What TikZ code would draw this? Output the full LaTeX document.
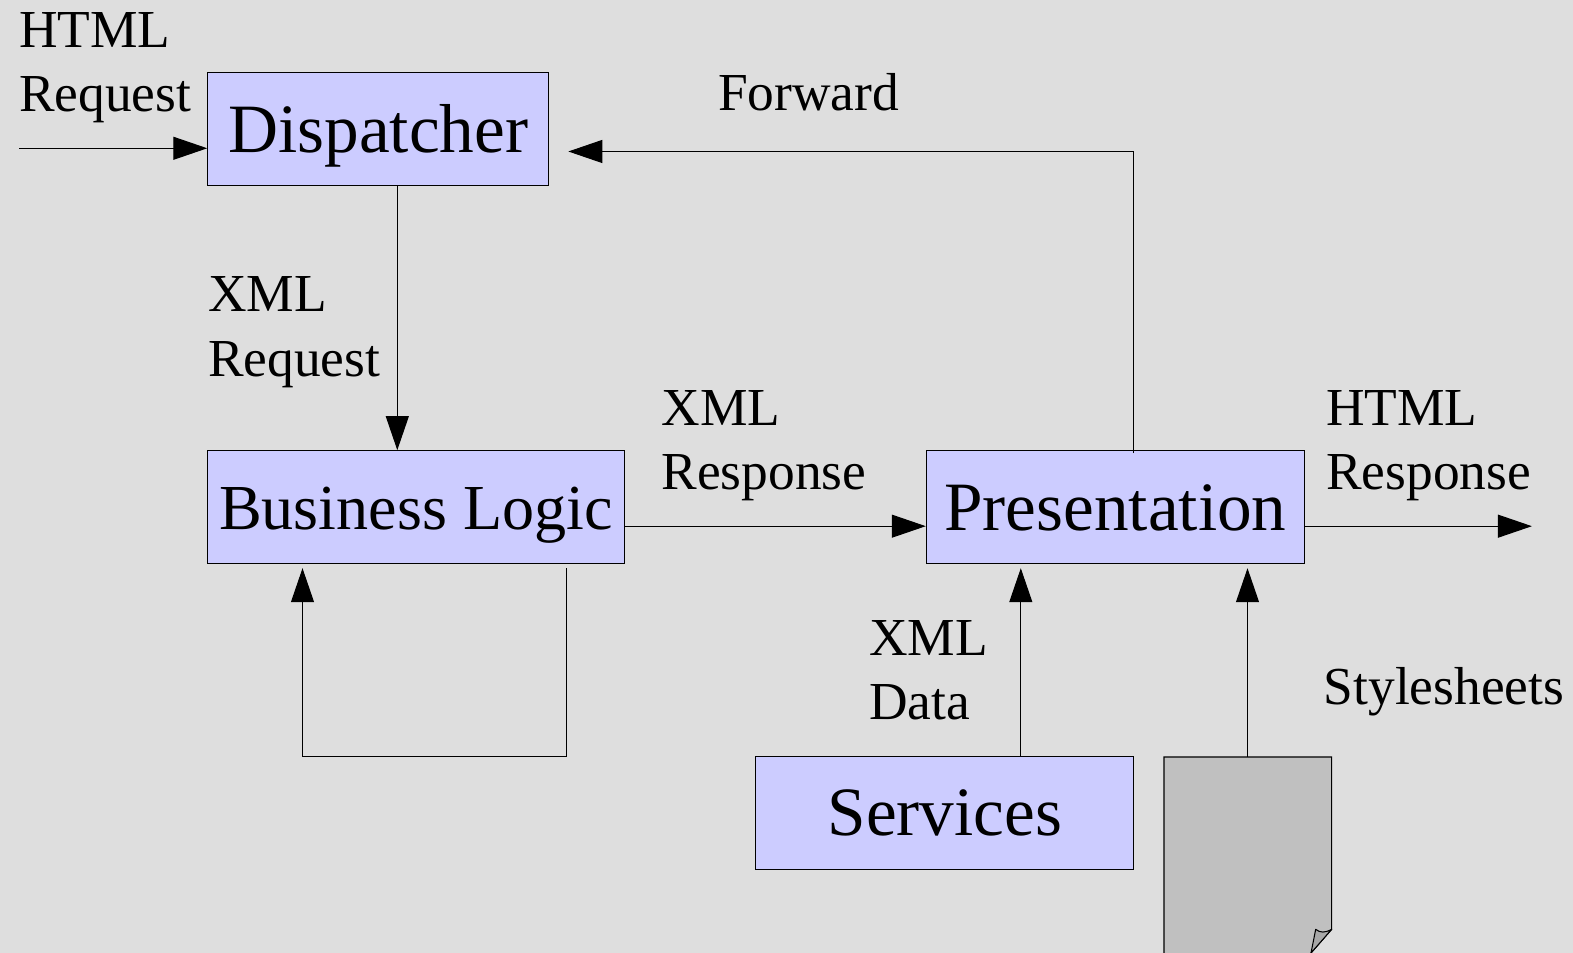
\documentclass[tikz,border=0pt]{standalone}
\usepackage{fontspec}
\setmainfont{Liberation Serif}
\usetikzlibrary{arrows.meta}
\definecolor{sfondo}{HTML}{DEDEDE}
\definecolor{scatola}{HTML}{CCCCFF}
\definecolor{foglio}{HTML}{C0C0C0}
\definecolor{piega}{HTML}{A8A8A8}
\tikzset{
	>={Triangle[length=3.4mm,width=2.3mm]},
	boxnode/.style={draw, fill=scatola, inner sep=0pt, text height=13.45pt, text depth=0pt, minimum height=1.13cm, font=\fontsize{19.7}{23}\selectfont},
	labelnode/.style={anchor=base west, inner sep=0pt, align=left, font=\fontsize{15.2}{18.3}\selectfont},
}

\begin{document}
\begin{tikzpicture}[line width=0.3pt]
		    \useasboundingbox (0,0) rectangle (15.73,9.53);
		    \clip (0,0) rectangle (15.73,9.53);
		    \fill[sfondo] (0,0) rectangle (15.73,9.53);

					\node[boxnode, minimum width=3.41cm] (dispatcher) at (3.783,8.24) {Dispatcher};
					\node[boxnode, minimum width=4.163cm, text height=12.5pt, font=\fontsize{18.25}{22}\selectfont] (business) at (4.16,4.458) {Business Logic};
					\node[boxnode, minimum width=3.782cm, text height=13pt] (presentation) at (11.154,4.458) {Presentation};
					\node[boxnode, minimum width=3.782cm, text height=12.7pt] (services) at (9.448,1.399) {Services};

					\draw[fill=foglio] (11.64,-0.2) -- (11.64,1.96) -- (13.317,1.96) -- (13.317,0.237) -- (13.11,0) -- (13.02,-0.2) -- cycle; % foglio
					\draw[fill=piega, line join=round] (13.317,0.237) .. controls (13.25,0.2) and (13.2,0.2) .. (13.157,0.237) -- (13.11,0) -- cycle; % piega

					\coordinate (requeststart) at (0.19,8.047);
					\coordinate (sheettop) at (12.475,1.96);
					\coordinate (responseend) at (15.319,4.268);
					\coordinate (forwardturn) at (11.336,8.015);
					\coordinate (downline) at (3.973,8.015);
					\coordinate (looptop) at (5.668,1.966);
					\coordinate (loopend) at (3.025,1.966);
					\coordinate (datatop) at (10.208,1.966);

					\draw[->] (requeststart) -- (dispatcher.west |- requeststart); % da html a dispatcher
					\draw[->] (dispatcher.south -| downline) -- (business.north -| downline); % da dispatcher a business
					\draw[->] (business.east |- responseend) -- (presentation.west |- responseend); % da business a presentation
					\draw[->] (presentation.east |- responseend) -- (responseend); % da presentation a html
					\draw[->, shorten >=1.9mm, shorten <=-0.3mm] (presentation.north -| forwardturn) |- (dispatcher.east |- forwardturn); % da presentation a dispatcher
					\draw[->, shorten >=0.4mm, shorten <=0.4mm] (business.south -| looptop) -- (looptop) -- (loopend) -- (business.south -| loopend); % da business a business
					\draw[->, shorten >=0.4mm] (services.north -| datatop) -- (presentation.south -| datatop); % da services a presentation
					\draw[->, shorten >=0.4mm] (sheettop) -- (presentation.south -| sheettop); % da foglio a presentation

					\node[labelnode] (htmlrequest) at (0.185,8.413) {HTML\\Request};
					\node[labelnode] (xmlrequest) at (2.075,5.768) {XML\\Request};
					\node[labelnode] (forward) at (7.175,8.426) {Forward};
					\node[labelnode] (xmlresponse) at (6.61,4.634) {XML\\Response};
					\node[labelnode] (htmlresponse) at (13.257,4.634) {HTML\\Response};
					\node[labelnode] (xmldata) at (8.688,2.332) {XML\\Data};
					\node[labelnode] (stylesheets) at (13.233,2.488) {Stylesheets};
		  \end{tikzpicture}
\end{document}
